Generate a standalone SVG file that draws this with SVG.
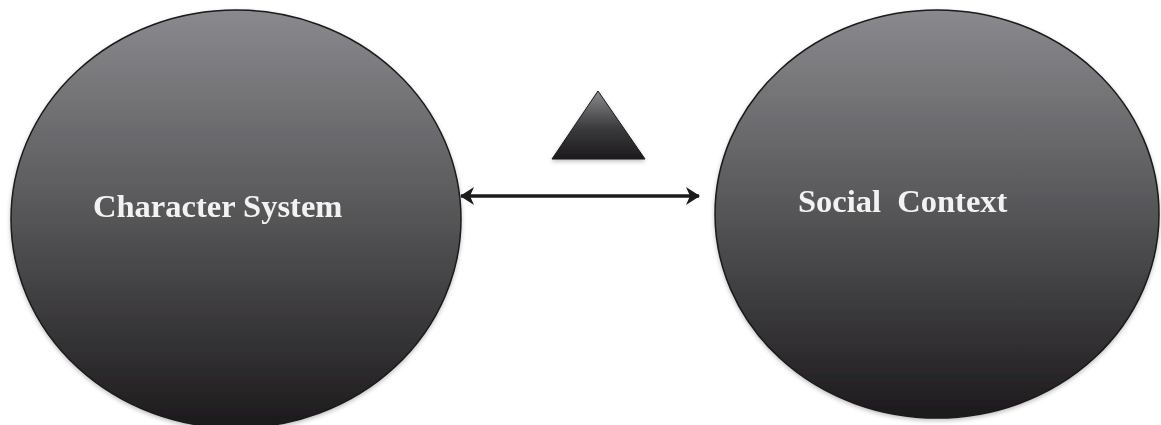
<svg xmlns="http://www.w3.org/2000/svg" width="1161" height="425" viewBox="0 0 1161 425">
  <defs>
    <linearGradient id="g" x1="0" y1="0" x2="0" y2="1">
      <stop offset="0" stop-color="#8a8a8e"/>
      <stop offset="0.5" stop-color="#555557"/>
      <stop offset="1" stop-color="#1c1a1c"/>
    </linearGradient>
    <linearGradient id="gt" x1="0" y1="0" x2="0" y2="1">
      <stop offset="0" stop-color="#8a8a8e"/>
      <stop offset="0.55" stop-color="#3a3a3c"/>
      <stop offset="1" stop-color="#1c1a1c"/>
    </linearGradient>
    <filter id="sh" x="-10%" y="-10%" width="120%" height="120%">
      <feGaussianBlur in="SourceAlpha" stdDeviation="2"/>
      <feOffset dx="0" dy="2" result="b"/>
      <feFlood flood-color="#000" flood-opacity="0.25"/>
      <feComposite in2="b" operator="in"/>
      <feMerge><feMergeNode/><feMergeNode in="SourceGraphic"/></feMerge>
    </filter>
    <marker id="ah" viewBox="0 0 14 18" refX="13" refY="9" markerWidth="14" markerHeight="18" markerUnits="userSpaceOnUse" orient="auto-start-reverse">
      <path d="M0,0 L14,9 L0,18 L4,9 Z" fill="#1c1a1c"/>
    </marker>
    <style>
      .node { fill: url(#g); stroke: #1a1a1a; stroke-width: 1.5; }
      .lbl { font-family: "Liberation Serif", "Times New Roman", serif; font-weight: bold; font-size: 32.5px; fill: #f2f2f2; }
      .conn { stroke: #1c1a1c; stroke-width: 3.5; fill: none; }
    </style>
  </defs>
  <rect width="1161" height="425" fill="#ffffff"/>
  <g id="character-system" filter="url(#sh)">
    <ellipse class="node" cx="236" cy="219" rx="225" ry="209"/>
    <text class="lbl" x="93" y="217">Character System</text>
  </g>
  <g id="social-context" filter="url(#sh)">
    <ellipse class="node" cx="937" cy="214" rx="222" ry="204"/>
    <text class="lbl" x="798" y="212" xml:space="preserve">Social  Context</text>
  </g>
  <g id="triangle" filter="url(#sh)">
    <polygon points="598,91 552,159 645,159" fill="url(#gt)" stroke="#1a1a1a" stroke-width="1"/>
  </g>
  <g id="connectors">
    <line class="conn" x1="461" y1="196" x2="699" y2="196" marker-start="url(#ah)" marker-end="url(#ah)"/>
  </g>
</svg>
